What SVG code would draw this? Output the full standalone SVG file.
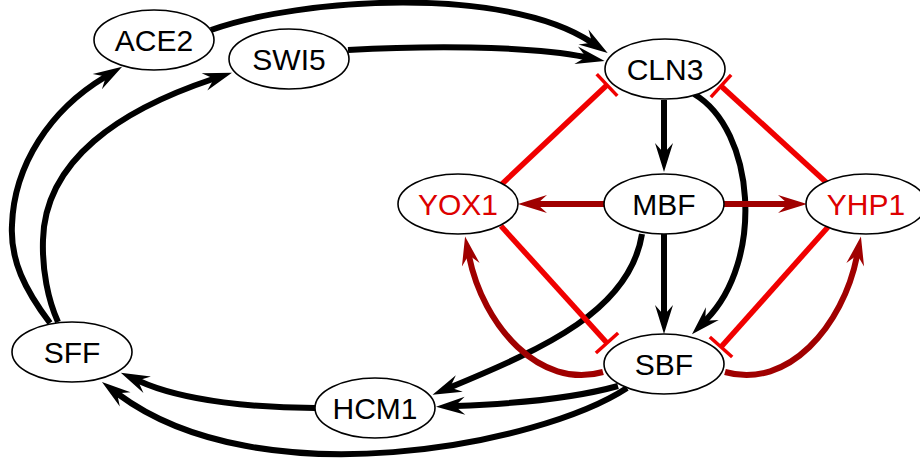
<svg xmlns="http://www.w3.org/2000/svg" width="920" height="463" viewBox="0 0 920 463">
  <style>
    .node ellipse { fill: #fff; stroke: #000; stroke-width: 1.6; }
    .node text { font-family: "Liberation Sans", Arial, sans-serif; font-size: 30px; text-anchor: middle; fill: #000; }
    .node.red text { fill: #dd0000; }
    .edge { fill: none; stroke-width: 6; stroke-linecap: butt; }
    .act { stroke: #000; marker-end: url(#arrow); }
    .dact { stroke: #a00000; marker-end: url(#arrowDark); }
    .inh { stroke: #f00000; stroke-width: 5.5; marker-end: url(#tbar); }
  </style>
  <defs>
    <marker id="arrow" markerUnits="userSpaceOnUse" orient="auto" markerWidth="40" markerHeight="24" viewBox="-12 -12 40 24" refX="0" refY="0">
      <path d="M20,0 L-9,-9 L-2,-2.8 L-2,2.8 L-9,9 Z" fill="#000"/>
    </marker>
    <marker id="arrowDark" markerUnits="userSpaceOnUse" orient="auto" markerWidth="40" markerHeight="24" viewBox="-12 -12 40 24" refX="0" refY="0">
      <path d="M20,0 L-9,-9 L-2,-2.8 L-2,2.8 L-9,9 Z" fill="#a00000"/>
    </marker>
    <marker id="tbar" markerUnits="userSpaceOnUse" orient="auto" markerWidth="10" markerHeight="36" viewBox="-5 -18 10 36" refX="0" refY="0">
      <path d="M0,-15 V15" stroke="#f00000" stroke-width="3.5" fill="none"/>
    </marker>
  </defs>

  <g id="edges">
    <!-- activations -->
    <path class="edge act" d="M211,30 C300,-2 505,-15 591,42"/>
    <path class="edge act" d="M348,50 C420,46 525,45 585,57"/>
    <path class="edge act" d="M664,100 L664,152"/>
    <path class="edge act" d="M694,94 C755,130 765,260 706,320"/>
    <path class="edge act" d="M664,234 L664,314"/>
    <path class="edge act" d="M642,234 C630,310 545,348 451,387"/>
    <path class="edge act" d="M618,386 C575,398 510,404 456,406"/>
    <path class="edge act" d="M627,388 C540,445 260,500 118,394"/>
    <path class="edge act" d="M315,408 C260,408 185,402 139,381"/>
    <path class="edge act" d="M50,323 C25,290 10,260 12,225 C14,165 50,110 105,77"/>
    <path class="edge act" d="M58,322 C48,300 42,270 43,240 C45,160 120,110 213,79"/>
    <!-- MBF / SBF feeding YOX1 and YHP1 -->
    <path class="edge dact" d="M604,204 L538,204"/>
    <path class="edge dact" d="M724,204 L787,204"/>
    <path class="edge dact" d="M603,372 C540,390 483,326 469,256"/>
    <path class="edge dact" d="M725,372 C788,390 843,326 857,256"/>
    <!-- repressions -->
    <path class="edge inh" d="M502,184 L607,85"/>
    <path class="edge inh" d="M828,184 L721,86"/>
    <path class="edge inh" d="M501,226 L607,343"/>
    <path class="edge inh" d="M828,227 L721,347"/>
  </g>

  <g id="ACE2" class="node"><ellipse cx="154" cy="40" rx="60" ry="30"/><text x="154" y="51">ACE2</text></g>
  <g id="SWI5" class="node"><ellipse cx="289" cy="59" rx="60" ry="30"/><text x="289" y="70">SWI5</text></g>
  <g id="CLN3" class="node"><ellipse cx="665" cy="69" rx="60" ry="30"/><text x="665" y="80">CLN3</text></g>
  <g id="YOX1" class="node red"><ellipse cx="458" cy="204" rx="60" ry="30"/><text x="458" y="215">YOX1</text></g>
  <g id="MBF" class="node"><ellipse cx="664" cy="204" rx="60" ry="30"/><text x="664" y="215">MBF</text></g>
  <g id="YHP1" class="node red"><ellipse cx="866" cy="204" rx="60" ry="30"/><text x="866" y="215">YHP1</text></g>
  <g id="SFF" class="node"><ellipse cx="72" cy="352" rx="60" ry="30"/><text x="72" y="363">SFF</text></g>
  <g id="HCM1" class="node"><ellipse cx="375" cy="408" rx="60" ry="30"/><text x="375" y="419">HCM1</text></g>
  <g id="SBF" class="node"><ellipse cx="664" cy="364" rx="60" ry="30"/><text x="664" y="375">SBF</text></g>
</svg>
